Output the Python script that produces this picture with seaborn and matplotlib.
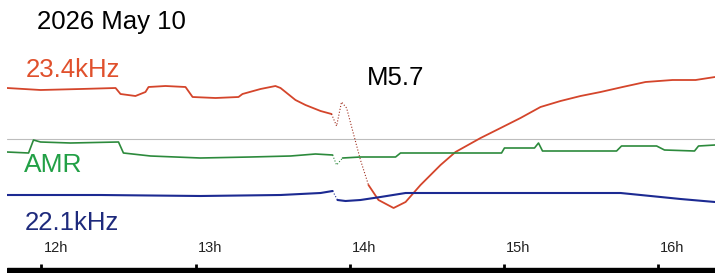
import numpy as np
import pandas as pd
import matplotlib
matplotlib.use("Agg")
import matplotlib.pyplot as plt
import seaborn as sns

# VLF receiver traces (time in hours UT, level in arbitrary units)
red_t = [11.776, 11.994, 12.253, 12.481, 12.513, 12.610, 12.675, 12.695, 12.805, 12.935,
         12.981, 13.130, 13.279, 13.305, 13.422, 13.519, 13.552, 13.649, 13.714, 13.812, 13.883]
red_v = [185, 183, 184, 185, 179, 177, 181, 186, 187, 186,
         176, 175, 176, 179, 184, 187, 185, 173, 168, 162, 159]
red_flare_t = [13.883, 13.916, 13.948, 13.981, 14.019, 14.071, 14.123]
red_flare_v = [159, 147, 171, 165, 143, 113, 88]
red_rec_t = [14.123, 14.188, 14.286, 14.364, 14.461, 14.591, 14.688, 14.851, 14.981, 15.110,
             15.240, 15.370, 15.500, 15.630, 15.773, 15.922, 16.097, 16.247, 16.373]
red_rec_v = [88, 73, 65, 71, 88, 108, 121, 135, 145, 155,
             166, 172, 177, 181, 186, 191, 193, 193, 196]

amr_t = [11.776, 11.916, 11.948, 11.994, 12.188, 12.500, 12.532, 12.708, 13.032, 13.357,
         13.617, 13.779, 13.890]
amr_v = [121, 120, 133, 131, 130, 131, 120, 117, 115, 116, 117, 119, 118]
amr_flare_t = [13.890, 13.916, 13.955]
amr_flare_v = [118, 108, 115]
amr_rec_t = [13.955, 14.071, 14.299, 14.331, 14.987, 15.006, 15.201, 15.227, 15.253, 15.734,
             15.766, 15.994, 16.045, 16.240, 16.266, 16.373]
amr_rec_v = [115, 116, 116, 120, 120, 125, 125, 130, 122, 122,
             127, 127, 123, 122, 127, 128]

blue_t = [11.776, 12.383, 13.032, 13.552, 13.812, 13.890]
blue_v = [78, 78, 77, 78, 80, 82]
blue_flare_t = [13.890, 13.922]
blue_flare_v = [82, 73]
blue_rec_t = [13.922, 13.974, 14.071, 14.201, 14.364, 14.981, 15.760, 15.955, 16.149, 16.373]
blue_rec_v = [73, 72, 73, 76, 80, 80, 80, 77, 74, 71]

hour_ticks = [12, 13, 14, 15, 16]
hour_labels = ["12h", "13h", "14h", "15h", "16h"]

sns.set_style("white")
plt.rcParams["font.family"] = ["Liberation Sans", "DejaVu Sans"]

W, H = 715, 273
fig = plt.figure(figsize=(W / 100, H / 100), dpi=100)
ax = fig.add_axes([7 / W, 0, 1 - 7 / W, 1])
ax.set_xlim(11.776, 16.373)
ax.set_ylim(0, H)
ax.axis("off")


def seg(t, v, color, lw, ls="-"):
    d = pd.DataFrame({"t": t, "v": v})
    sns.lineplot(data=d, x="t", y="v", ax=ax, color=color, lw=lw, linestyle=ls,
                 sort=False, estimator=None)


ax.axhline(134, color="#bdbdbd", lw=0.8, zorder=0)

red = "#d4452b"
green = "#2c8a3c"
blue = "#1c2a92"
seg(red_t, red_v, red, 1.3)
seg(red_flare_t, red_flare_v, "#a03020", 0.8, ":")
seg(red_rec_t, red_rec_v, red, 1.3)
seg(amr_t, amr_v, green, 1.2)
seg(amr_flare_t, amr_flare_v, green, 0.8, ":")
seg(amr_rec_t, amr_rec_v, green, 1.2)
seg(blue_t, blue_v, blue, 1.5)
seg(blue_flare_t, blue_flare_v, blue, 0.8, ":")
seg(blue_rec_t, blue_rec_v, blue, 1.5)

# bottom bar with hour ticks
ax.axhspan(0, 5, color="black", zorder=3)
ax.vlines(hour_ticks, 5, 9, color="black", lw=2, zorder=3)
for h, lab in zip(hour_ticks, hour_labels):
    ax.text(h + 0.018, 25, lab, fontsize=10.5, ha="left", va="center", color="#222222")


def px(x, y):
    return x / W, 1 - y / H


fig.text(*px(37, 22), "2026 May 10", fontsize=18.5, ha="left", va="center", color="black")
fig.text(*px(26, 70), "23.4kHz", fontsize=18.5, ha="left", va="center", color="#e0502c")
fig.text(*px(367, 78), "M5.7", fontsize=18.5, ha="left", va="center", color="black")
fig.text(*px(24, 165), "AMR", fontsize=19, ha="left", va="center", color="#22a046")
fig.text(*px(25, 223), "22.1kHz", fontsize=18.5, ha="left", va="center", color="#1e2a7c")

fig.savefig("out.png", dpi=100)
